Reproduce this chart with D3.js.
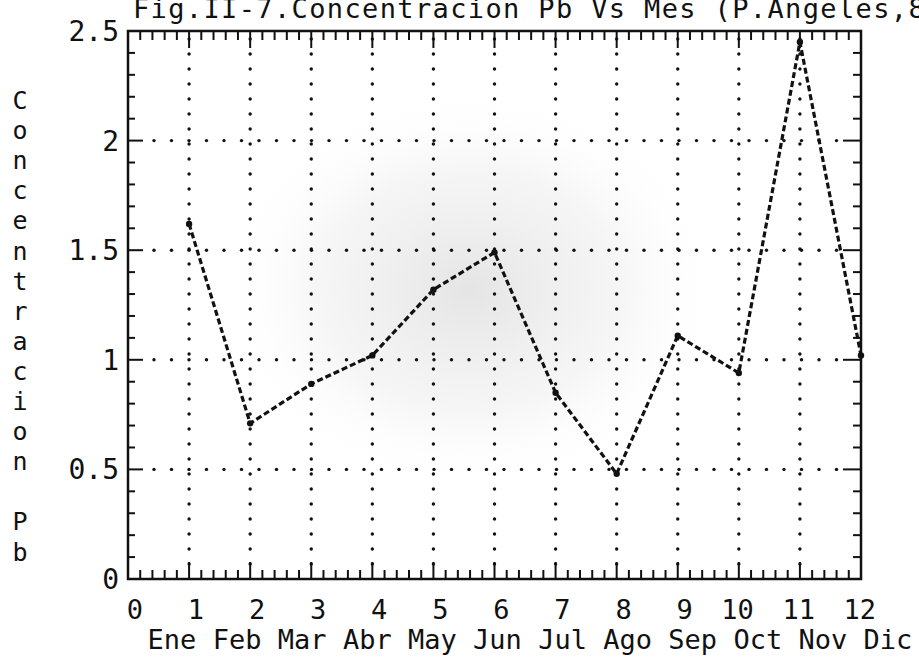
<!DOCTYPE html>
<html>
<head>
<meta charset="utf-8">
<script src="https://cdn.jsdelivr.net/npm/d3@7"></script>
<style>
  body { margin: 0; background: #fff; }
  svg text { font-family: "DejaVu Sans Mono", monospace; fill: #111; }
</style>
</head>
<body>
<div id="container"></div>
<script>
// data
const titleText = "Fig.II-7.Concentracion Pb Vs Mes (P.Angeles,86)";
const yLabelText = "Concentracion Pb";
const monthNums = [1, 2, 3, 4, 5, 6, 7, 8, 9, 10, 11, 12];
const monthNames = ["Ene", "Feb", "Mar", "Abr", "May", "Jun", "Jul", "Ago", "Sep", "Oct", "Nov", "Dic"];
const leadValues = [1.62, 0.71, 0.89, 1.02, 1.32, 1.49, 0.85, 0.48, 1.11, 0.94, 2.45, 1.02];
const xTickLabels = ["0", "1", "2", "3", "4", "5", "6", "7", "8", "9", "10", "11", "12"];
const yTickValues = [0, 0.5, 1, 1.5, 2, 2.5];
const yTickLabels = ["0", "0.5", "1", "1.5", "2", "2.5"];

const w = 919;
const h = 659;
const plotL = 128, plotR = 861, plotT = 31, plotB = 579;

const svg = d3.select("#container")
  .append("svg")
  .attr("width", w)
  .attr("height", h);

// faint grey scan smudge behind the plot
const defs = svg.append("defs");
const grad = defs.append("radialGradient").attr("id", "smudge");
grad.append("stop").attr("offset", "0%").attr("stop-color", "#cfcfcf").attr("stop-opacity", 0.55);
grad.append("stop").attr("offset", "60%").attr("stop-color", "#e4e4e4").attr("stop-opacity", 0.35);
grad.append("stop").attr("offset", "100%").attr("stop-color", "#ffffff").attr("stop-opacity", 0);
svg.append("ellipse")
  .attr("cx", 470).attr("cy", 290)
  .attr("rx", 250).attr("ry", 200)
  .attr("fill", "url(#smudge)");

const x = d3.scaleLinear().domain([0, 12]).range([plotL, plotR]);
const y = d3.scaleLinear().domain([0, 2.5]).range([plotB, plotT]);
// month names are typed as one monospaced line, so they drift off the tick positions
const xMonth = d3.scalePoint().domain(monthNames).range([172, 888]);

// dotted grid
const grid = svg.append("g").attr("fill", "#111");
d3.range(1, 12).forEach(m => {
  d3.range(39, plotB - 6, 15).forEach(py => {
    grid.append("circle").attr("cx", x(m)).attr("cy", py).attr("r", 1.7);
  });
});
yTickValues.filter(v => v > 0 && v < 2.5).forEach(v => {
  d3.range(154, plotR - 16, 17.5).forEach(px => {
    grid.append("circle").attr("cx", px).attr("cy", y(v)).attr("r", 1.7);
  });
});

// frame
svg.append("rect")
  .attr("x", plotL).attr("y", plotT)
  .attr("width", plotR - plotL).attr("height", plotB - plotT)
  .attr("fill", "none").attr("stroke", "#111").attr("stroke-width", 2.5);

// ticks: top & bottom (every 0.2), left & right (every 0.1)
const ticks = svg.append("g").attr("stroke", "#111").attr("stroke-width", 2);
d3.range(0, 12.001, 0.2).forEach(v => {
  const major = Math.abs(v - Math.round(v)) < 1e-6;
  const len = major ? 17 : 9;
  ticks.append("line").attr("x1", x(v)).attr("x2", x(v)).attr("y1", plotT).attr("y2", plotT + len);
  ticks.append("line").attr("x1", x(v)).attr("x2", x(v)).attr("y1", plotB).attr("y2", plotB - len);
});
d3.range(0, 2.5001, 0.1).forEach(v => {
  const major = Math.abs(v * 2 - Math.round(v * 2)) < 1e-6;
  ticks.append("line").attr("x1", plotL).attr("x2", plotL + (major ? 15 : 7)).attr("y1", y(v)).attr("y2", y(v));
  ticks.append("line").attr("x1", plotR).attr("x2", plotR - (major ? 18 : 8)).attr("y1", y(v)).attr("y2", y(v));
});

// data line
const line = d3.line().x((d, i) => x(monthNums[i])).y(d => y(d));
svg.append("path")
  .datum(leadValues)
  .attr("d", line)
  .attr("fill", "none")
  .attr("stroke", "#111")
  .attr("stroke-width", 3.2)
  .attr("stroke-dasharray", "6,3");

svg.selectAll(".pt")
  .data(leadValues)
  .enter()
  .append("circle")
  .attr("class", "pt")
  .attr("cx", (d, i) => x(monthNums[i]))
  .attr("cy", d => y(d))
  .attr("r", 3.2)
  .attr("fill", "#111");

// y tick labels
svg.selectAll(".ylab")
  .data(yTickValues)
  .enter()
  .append("text")
  .attr("class", "ylab")
  .attr("x", plotL - 9)
  .attr("y", d => y(d) + 10)
  .attr("text-anchor", "end")
  .attr("font-size", 28)
  .text((d, i) => yTickLabels[i]);

// x tick labels (right edge one cell past the tick)
svg.selectAll(".xlab")
  .data(xTickLabels)
  .enter()
  .append("text")
  .attr("class", "xlab")
  .attr("x", (d, i) => x(i) + 15)
  .attr("y", 619)
  .attr("text-anchor", "end")
  .attr("font-size", 27)
  .text(d => d);

// month names
svg.selectAll(".mlab")
  .data(monthNames)
  .enter()
  .append("text")
  .attr("class", "mlab")
  .attr("x", d => xMonth(d))
  .attr("y", 649)
  .attr("text-anchor", "middle")
  .attr("font-size", 27)
  .text(d => d);

// title (runs off the right edge as in the original)
svg.append("text")
  .attr("x", 133)
  .attr("y", 18)
  .attr("font-size", 27)
  .attr("textLength", 827)
  .attr("lengthAdjust", "spacing")
  .text(titleText);

// vertical stacked y label
const letters = yLabelText.split("");
svg.selectAll(".vlab")
  .data(letters)
  .enter()
  .append("text")
  .attr("class", "vlab")
  .attr("x", 20)
  .attr("y", (d, i) => 109 + i * 30.1)
  .attr("text-anchor", "middle")
  .attr("font-size", 25)
  .text(d => d);
</script>
</body>
</html>
